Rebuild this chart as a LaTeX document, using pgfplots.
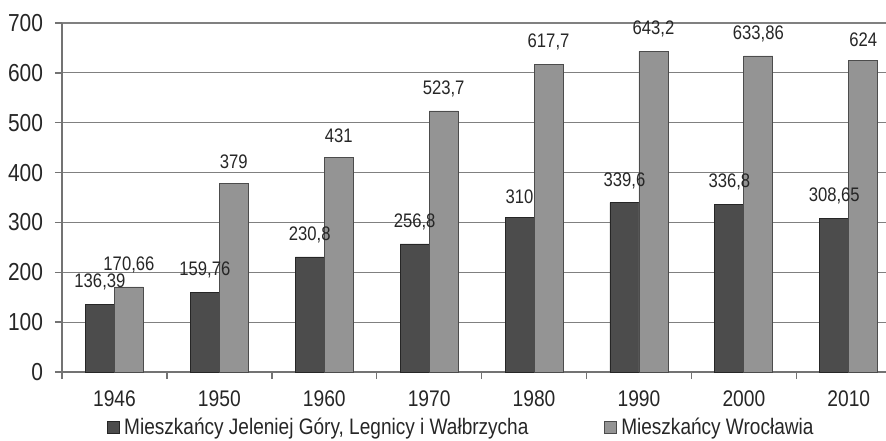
\documentclass[border=0pt]{standalone}
\usepackage{pgfplots}
\pgfplotsset{compat=1.18}
\usepackage{fontspec}
\setmainfont{Liberation Sans}[FakeStretch=0.85]
\begin{document}
\begin{tikzpicture}
\begin{axis}[
  name=ax,
  scale only axis,
  width=412pt, height=174.5pt,
  xmin=-0.5, xmax=7.355,
  ymin=0, ymax=700,
  ytick={0,100,...,700},
  ymajorgrids,
  grid style={draw=black!50, line width=0.6pt},
  axis x line=bottom, axis y line=left,
  axis line style={-, draw=black!55, line width=0.7pt},
  tick style={draw=black!55, line width=0.7pt},
  tick align=outside,
  major tick length=3.5pt,
  xtick={-0.5,0.5,...,7.5},
  xticklabels={},
  extra x ticks={0,1,2,3,4,5,6,7},
  extra x tick labels={1946,1950,1960,1970,1980,1990,2000,2010},
  extra x tick style={major tick length=0pt, grid=none,
     xticklabel style={yshift=-6pt, font=\fontsize{11.3}{13}\selectfont}},
  yticklabel style={xshift=-2.5pt, font=\fontsize{12.3}{14}\selectfont, text=black!85},
  xticklabel style={text=black!85},
  /pgf/number format/assume math mode=true,
  /pgf/number format/use comma,
  /pgf/number format/precision=2,
  ybar=0pt, bar width=14.5pt,
  nodes near coords,
  nodes near coords style={font=\fontsize{9.8}{11}\selectfont, yshift=3.5pt, text=black!85},
  legend style={at={(0.486,-0.16)}, anchor=center, draw=none, fill=none,
     legend columns=2, font=\fontsize{11.2}{13}\selectfont, text=black!85,
     /tikz/every even column/.append style={column sep=36pt}},
  legend image code/.code={\draw[#1] (0pt,-3pt) rectangle (6pt,3pt);},
]
\addplot[draw=black!85, line width=0.4pt, fill=black!70]
  coordinates {(0,136.39) (1,159.76) (2,230.8) (3,256.8) (4,310) (5,339.6) (6,336.8) (7,308.65)};
\addlegendentry{Mieszkańcy Jeleniej Góry, Legnicy i Wałbrzycha}
\addplot[draw=black!70, line width=0.4pt, fill=black!42]
  coordinates {(0,170.66) (1,379) (2,431) (3,523.7) (4,617.7) (5,643.2) (6,633.86) (7,624)};
\addlegendentry{Mieszkańcy Wrocławia}
\end{axis}
\pgfresetboundingbox
\path ([xshift=-31pt,yshift=-34pt]ax.south west) rectangle ([yshift=11.5pt]ax.north east);
\end{tikzpicture}
\end{document}
